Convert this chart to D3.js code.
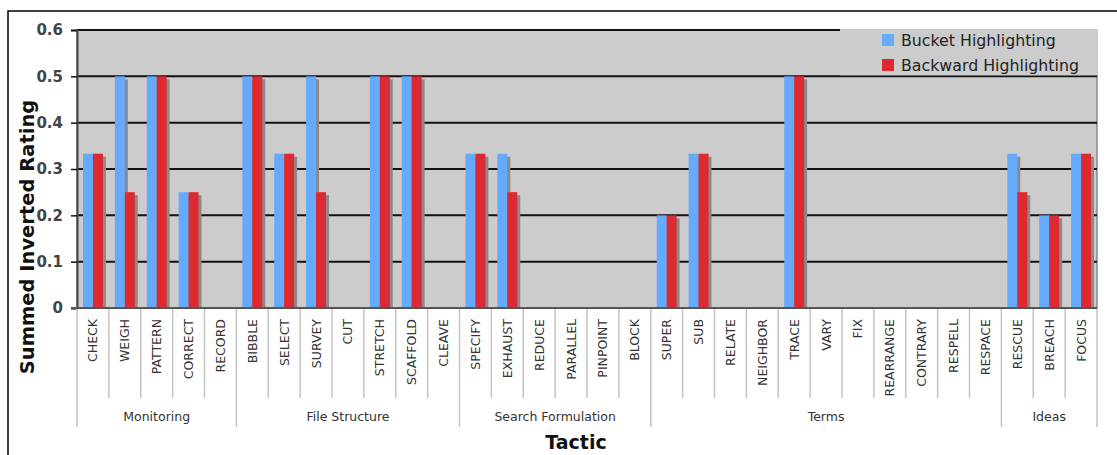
<!DOCTYPE html>
<html>
<head>
<meta charset="utf-8">
<script src="https://cdn.jsdelivr.net/npm/d3@7"></script>
<style>
  body { margin: 0; background: #fff; }
  svg text { font-family: "DejaVu Sans", Verdana, sans-serif; }
</style>
</head>
<body>
<script>
// tactics, grouped by category
var tactics = ["CHECK", "WEIGH", "PATTERN", "CORRECT", "RECORD",
  "BIBBLE", "SELECT", "SURVEY", "CUT", "STRETCH", "SCAFFOLD", "CLEAVE",
  "SPECIFY", "EXHAUST", "REDUCE", "PARALLEL", "PINPOINT", "BLOCK",
  "SUPER", "SUB", "RELATE", "NEIGHBOR", "TRACE", "VARY", "FIX", "REARRANGE",
  "CONTRARY", "RESPELL", "RESPACE",
  "RESCUE", "BREACH", "FOCUS"];
var groups = ["Monitoring", "File Structure", "Search Formulation", "Terms", "Ideas"];
var groupSizes = [5, 7, 6, 11, 3];
var seriesNames = ["Bucket Highlighting", "Backward Highlighting"];

var bucket = [0.333, 0.5, 0.5, 0.25, 0,
  0.5, 0.333, 0.5, 0, 0.5, 0.5, 0,
  0.333, 0.333, 0, 0, 0, 0,
  0.2, 0.333, 0, 0, 0.5, 0, 0, 0, 0, 0, 0,
  0.333, 0.2, 0.333];
var backward = [0.333, 0.25, 0.5, 0.25, 0,
  0.5, 0.333, 0.25, 0, 0.5, 0.5, 0,
  0.333, 0.25, 0, 0, 0, 0,
  0.2, 0.333, 0, 0, 0.5, 0, 0, 0, 0, 0, 0,
  0.25, 0.2, 0.333];
var yTicks = [0, 0.1, 0.2, 0.3, 0.4, 0.5, 0.6];

var colors = ["#66aaff", "#dd2a30"];

var svg = d3.select("body").append("svg")
  .attr("width", 1117)
  .attr("height", 455);

// outer frame
svg.append("rect")
  .attr("x", 8).attr("y", 11)
  .attr("width", 1300).attr("height", 600)
  .attr("fill", "#fff")
  .attr("stroke", "#000")
  .attr("stroke-width", 1.5);

var plotLeft = 77, plotRight = 1097, plotTop = 30, plotBottom = 308;

var x = d3.scaleBand().domain(tactics).range([plotLeft, plotRight]);
var x1 = d3.scaleBand().domain([0, 1]).range([0, x.bandwidth()]).paddingOuter(0.6);
var y = d3.scaleLinear().domain([0, 0.6]).range([plotBottom, plotTop]);

// plot background
svg.append("rect")
  .attr("x", plotLeft).attr("y", plotTop)
  .attr("width", plotRight - plotLeft).attr("height", plotBottom - plotTop)
  .attr("fill", "#cccccc")
  .attr("stroke", "#888")
  .attr("stroke-width", 1.5);

// gridlines
svg.append("g").selectAll("line")
  .data(yTicks.filter(function(d) { return d > 0; }))
  .enter().append("line")
  .attr("x1", plotLeft).attr("x2", plotRight)
  .attr("y1", function(d) { return y(d); })
  .attr("y2", function(d) { return y(d); })
  .attr("stroke", "#111")
  .attr("stroke-width", 2);

// bars with shadow
var series = [bucket, backward];
series.forEach(function(vals, s) {
  var rows = vals.map(function(v, i) { return {name: tactics[i], value: v}; })
    .filter(function(d) { return d.value > 0; });
  var g = svg.append("g");
  g.selectAll(".shadow")
    .data(rows)
    .enter().append("rect")
    .attr("class", "shadow")
    .attr("x", function(d) { return x(d.name) + x1(s) + 3; })
    .attr("y", function(d) { return y(d.value) + 3; })
    .attr("width", x1.bandwidth())
    .attr("height", function(d) { return plotBottom - y(d.value) - 3; })
    .attr("fill", "#8a8a8a");
  g.selectAll(".bar")
    .data(rows)
    .enter().append("rect")
    .attr("class", "bar")
    .attr("x", function(d) { return x(d.name) + x1(s); })
    .attr("y", function(d) { return y(d.value); })
    .attr("width", x1.bandwidth())
    .attr("height", function(d) { return plotBottom - y(d.value); })
    .attr("fill", colors[s]);
});

// legend
var legend = svg.append("g");
legend.append("rect")
  .attr("x", 840).attr("y", plotTop - 1)
  .attr("width", plotRight - 840 + 1).attr("height", y(0.5) - plotTop)
  .attr("fill", "#cccccc");
seriesNames.forEach(function(name, i) {
  legend.append("rect")
    .attr("x", 882).attr("y", 34 + i * 25)
    .attr("width", 12).attr("height", 12)
    .attr("fill", colors[i]);
  legend.append("text")
    .attr("x", 901).attr("y", 46 + i * 25)
    .attr("font-size", "15.8px")
    .attr("fill", "#222")
    .text(name);
});

// left axis
var yAxis = d3.axisLeft(y).tickValues(yTicks).tickSize(6).tickPadding(8)
  .tickFormat(function(d) { return d === 0 ? "0" : d3.format(".1f")(d); });
var ya = svg.append("g")
  .attr("transform", "translate(" + plotLeft + ",0)")
  .call(yAxis);
ya.select(".domain").attr("stroke", "#444").attr("stroke-width", 2);
ya.selectAll(".tick line").attr("stroke", "#111").attr("stroke-width", 1.5);
ya.selectAll(".tick text")
  .attr("font-size", "15px")
  .attr("font-weight", "bold")
  .attr("fill", "#444")
  .style("font-family", "'DejaVu Sans', sans-serif");

// bottom axis line
svg.append("line")
  .attr("x1", plotLeft - 6).attr("x2", plotRight)
  .attr("y1", plotBottom).attr("y2", plotBottom)
  .attr("stroke", "#555").attr("stroke-width", 2);

// category separators
var bounds = d3.range(tactics.length + 1);
var groupStarts = [0];
groupSizes.forEach(function(n, i) { groupStarts.push(groupStarts[i] + n); });
svg.append("g").selectAll("line")
  .data(bounds)
  .enter().append("line")
  .attr("x1", function(d) { return plotLeft + d * x.step(); })
  .attr("x2", function(d) { return plotLeft + d * x.step(); })
  .attr("y1", plotBottom + 1)
  .attr("y2", function(d) { return groupStarts.indexOf(d) >= 0 ? 427 : 398; })
  .attr("stroke", "#c4c4c4")
  .attr("stroke-width", 1.5);

// category labels
svg.append("g").selectAll("text")
  .data(tactics)
  .enter().append("text")
  .attr("transform", function(d) {
    return "translate(" + (x(d) + x.bandwidth() / 2) + ",319) rotate(-90)";
  })
  .attr("dy", "0.36em")
  .attr("text-anchor", "end")
  .attr("font-size", "12.5px")
  .attr("fill", "#333")
  .text(function(d) { return d; });

// group labels
svg.append("g").selectAll("text")
  .data(groups)
  .enter().append("text")
  .attr("x", function(d, i) {
    return plotLeft + (groupStarts[i] + groupSizes[i] / 2) * x.step();
  })
  .attr("y", 421)
  .attr("text-anchor", "middle")
  .attr("font-size", "12.5px")
  .attr("fill", "#333")
  .text(function(d) { return d; });

// axis titles
svg.append("text")
  .attr("x", 576).attr("y", 449)
  .attr("text-anchor", "middle")
  .attr("font-size", "19px")
  .attr("font-weight", "bold")
  .attr("fill", "#111")
  .text("Tactic");

svg.append("text")
  .attr("transform", "translate(34,237) rotate(-90)")
  .attr("text-anchor", "middle")
  .attr("font-size", "19.5px")
  .attr("font-weight", "bold")
  .attr("fill", "#111")
  .text("Summed Inverted Rating");
</script>
</body>
</html>
